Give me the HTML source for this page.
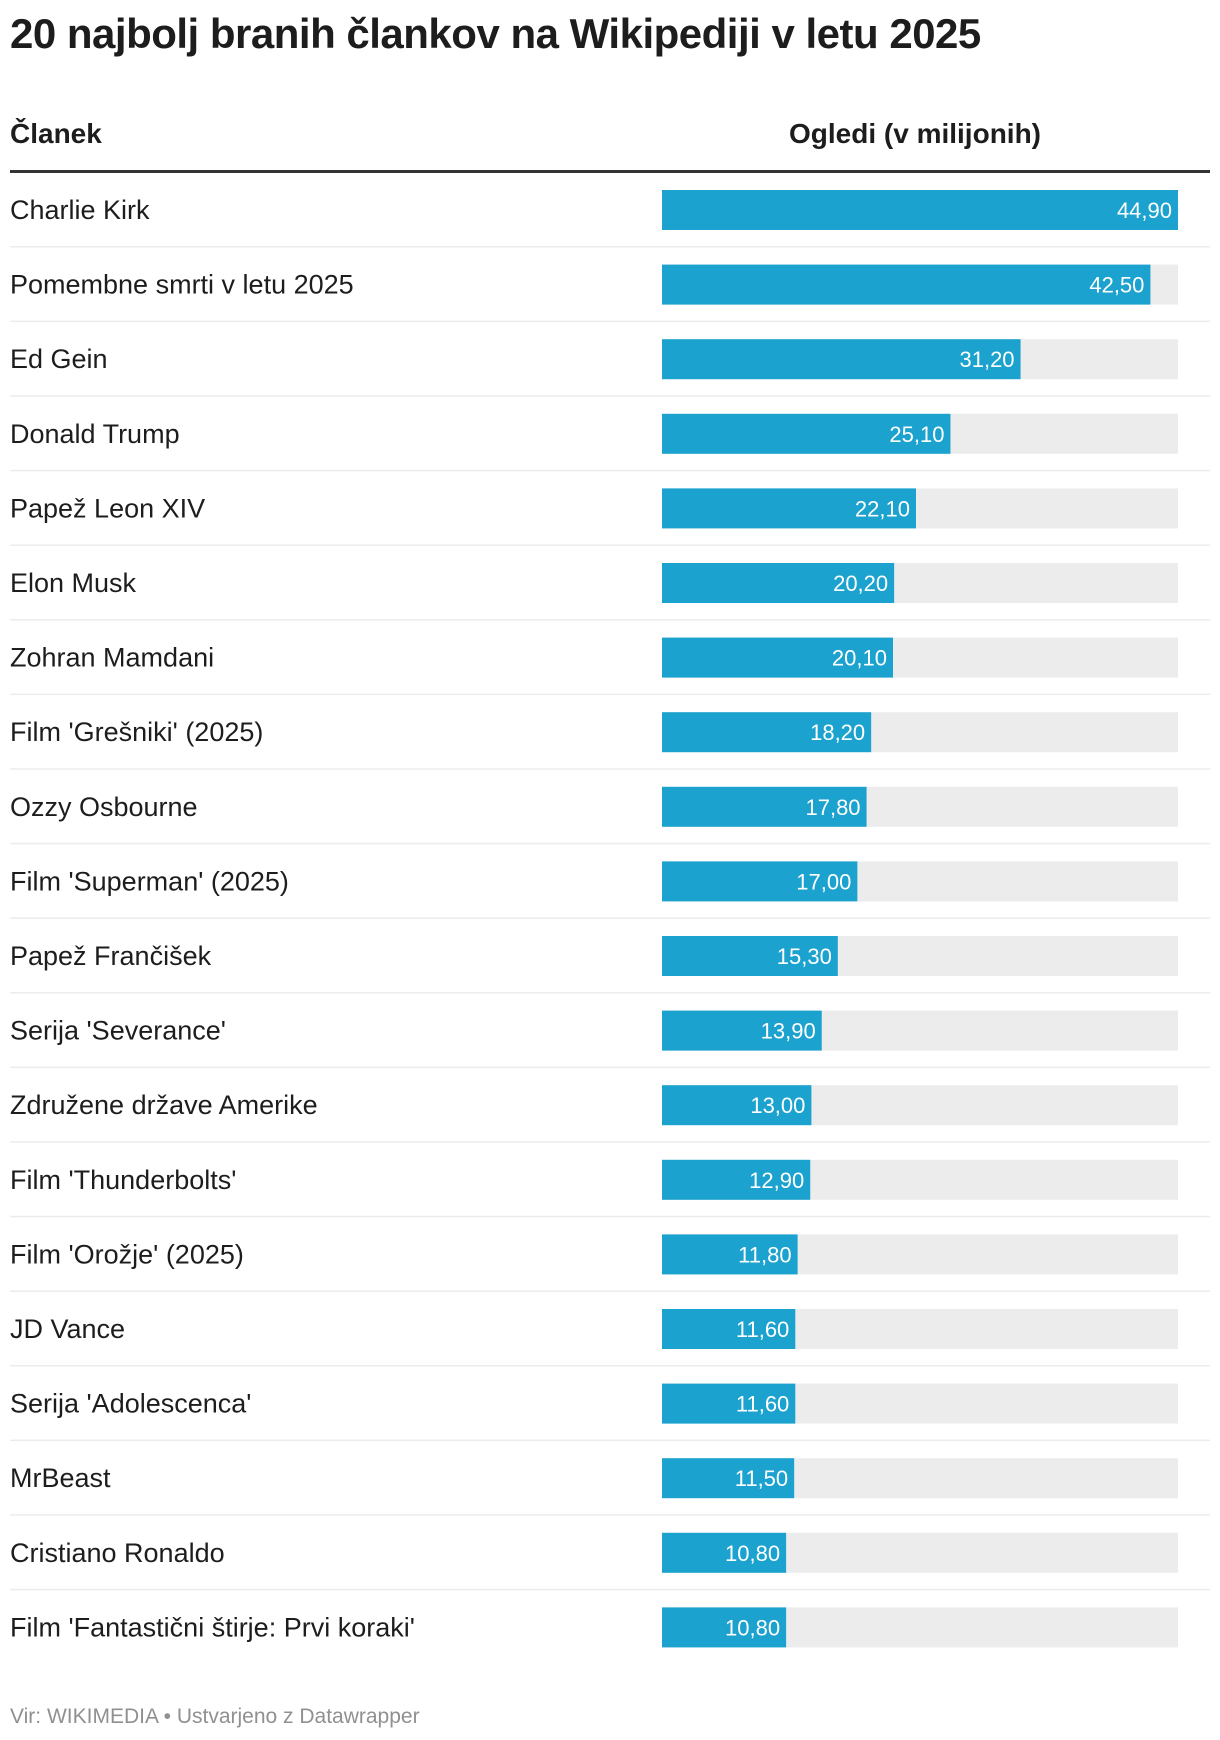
<!DOCTYPE html>
<html><head><meta charset="utf-8"><style>
body{margin:0;background:#fff;width:1220px;height:1740px;overflow:hidden;font-family:"Liberation Sans",sans-serif;position:relative;color:#1d1d1d}
.t{position:absolute;left:10px;top:10px;font-size:42px;font-weight:bold;letter-spacing:-0.5px}
.h{position:absolute;font-size:28px;font-weight:bold;top:118px}
#chart{position:absolute;left:0;top:0}
.foot{position:absolute;left:10px;top:1705px;font-size:21px;color:#909090}
</style></head><body>
<div class="t">20 najbolj branih člankov na Wikipediji v letu 2025</div>
<div class="h" style="left:10px">Članek</div>
<div class="h" style="left:789px">Ogledi (v milijonih)</div>
<svg id="chart" width="1220" height="1740"></svg>
<div class="foot">Vir: WIKIMEDIA • Ustvarjeno z Datawrapper</div>
<script>
const categories=["Charlie Kirk","Pomembne smrti v letu 2025","Ed Gein","Donald Trump","Papež Leon XIV","Elon Musk","Zohran Mamdani","Film 'Grešniki' (2025)","Ozzy Osbourne","Film 'Superman' (2025)","Papež Frančišek","Serija 'Severance'","Združene države Amerike","Film 'Thunderbolts'","Film 'Orožje' (2025)","JD Vance","Serija 'Adolescenca'","MrBeast","Cristiano Ronaldo","Film 'Fantastični štirje: Prvi koraki'"];
const values=[44.9,42.5,31.2,25.1,22.1,20.2,20.1,18.2,17.8,17.0,15.3,13.9,13.0,12.9,11.8,11.6,11.6,11.5,10.8,10.8];
const maxValue=44.9;
const NS="http://www.w3.org/2000/svg";
const svg=document.getElementById('chart');
const x0=662,x1=1178;
const xs=v=>x0+(x1-x0)*v/maxValue;
const rowY=i=>190+i*74.6;
function mk(t,a){const e=document.createElementNS(NS,t);for(const k in a)e.setAttribute(k,a[k]);svg.appendChild(e);return e;}
const rule=mk('rect',{x:10,y:170,width:1200,height:3,fill:'#333'});


categories.forEach((c,i)=>{
  const y=rowY(i);
  if(i<categories.length-1){
    const s=mk('rect',{x:10,y:y+56,width:1200,height:1.5,fill:'#ececec'});
    
    
  }
  const lb=mk('text',{x:10,y:y+29,'font-size':27,fill:'#1d1d1d','font-family':'Liberation Sans, sans-serif'});
  lb.textContent=c;
  
  
  const bg=mk('rect',{x:x0,y:y,width:x1-x0,height:40,fill:'#ececec'});
  
  
  const b=mk('rect',{x:x0,y:y,width:xs(values[i])-x0,height:40,fill:'#1ba2cf'});
  
  
  const v=mk('text',{x:xs(values[i])-6,y:y+28,'font-size':22,fill:'#fff','text-anchor':'end','font-family':'Liberation Sans, sans-serif'});
  v.textContent=values[i].toFixed(2).replace('.',',');
  
  
});
</script>
</body></html>
